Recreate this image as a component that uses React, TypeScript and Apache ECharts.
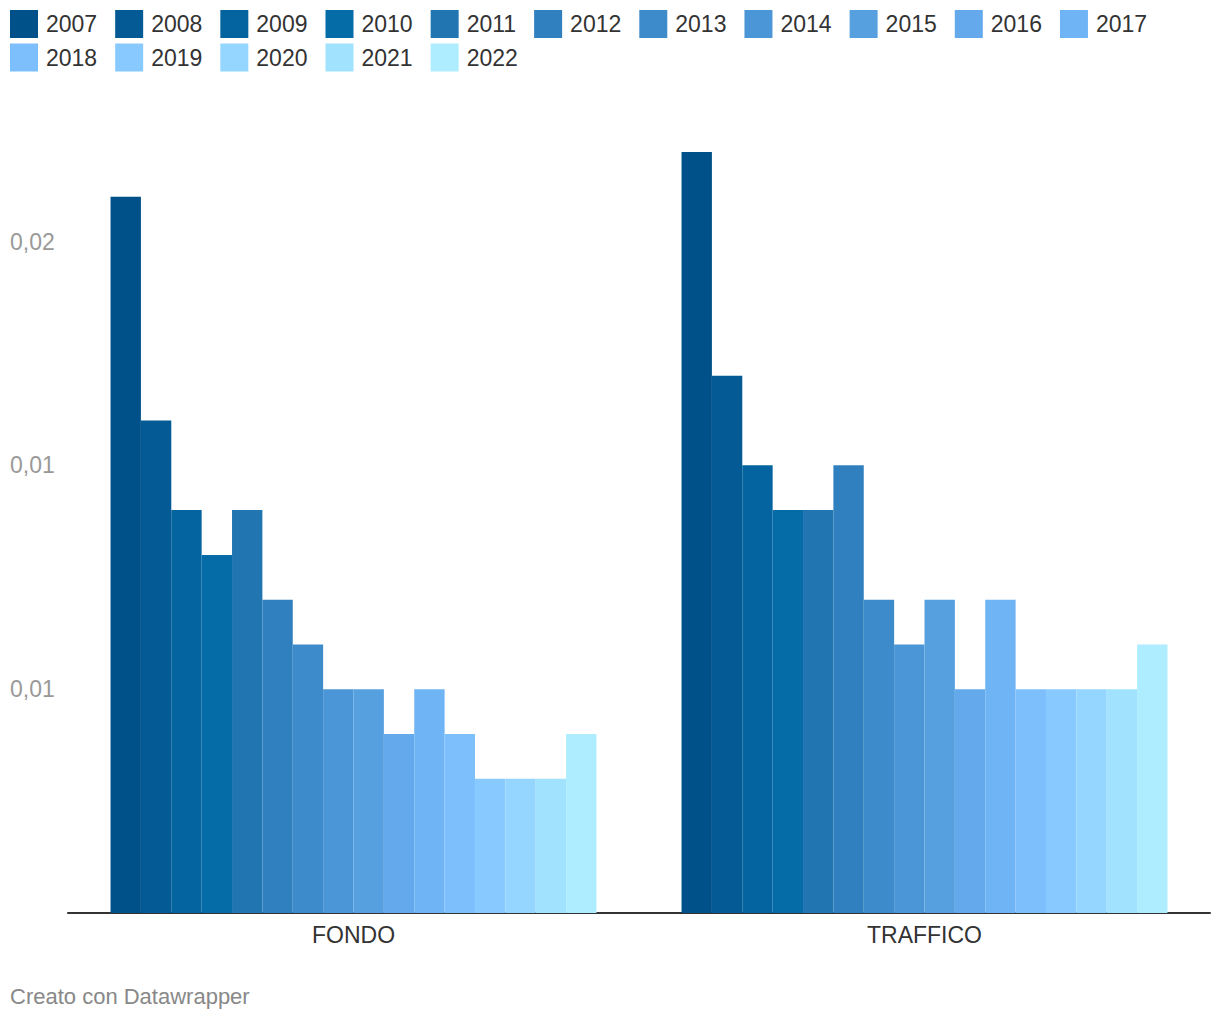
import React, { useEffect, useRef } from "react";
import * as echarts from "echarts";

const years = ["2007","2008","2009","2010","2011","2012","2013","2014","2015","2016","2017","2018","2019","2020","2021","2022"];
const categories = ["FONDO", "TRAFFICO"];
const fondo = [0.016,0.011,0.009,0.008,0.009,0.007,0.006,0.005,0.005,0.004,0.005,0.004,0.003,0.003,0.003,0.004];
const traffico = [0.017,0.012,0.010,0.009,0.009,0.010,0.007,0.006,0.007,0.005,0.007,0.005,0.005,0.005,0.005,0.006];
const colors = ["#005089","#035a94","#04649f","#066ca8","#2176b2","#3080c0","#3d8bca","#4b96d6","#56a0e0","#63a9eb","#6fb4f5","#7dbffd","#88caff","#94d6ff","#a1e2ff","#aeedff"];
const yTicks = [0.005, 0.01, 0.015];
const yTickLabels = ["0,01", "0,01", "0,02"];

const FONT = '"Liberation Sans", Arial, Helvetica, sans-serif';

export default function App() {
  const ref = useRef<HTMLDivElement>(null);
  useEffect(() => {
    if (!ref.current) return;
    const chart = echarts.init(ref.current, null, { renderer: "svg" });
    const legendCommon = {
      left: 10,
      padding: 0,
      orient: "horizontal",
      itemWidth: 28,
      itemHeight: 28,
      itemGap: 18,
      icon: "rect",
      textStyle: { fontSize: 23, color: "#333", fontFamily: FONT, padding: [0, 0, 0, 3] },
      selectedMode: false,
    };
    chart.setOption({
      animation: false,
      color: colors,
      textStyle: { fontFamily: FONT },
      legend: [
        { ...legendCommon, top: 10, data: years.slice(0, 11) },
        { ...legendCommon, top: 43.5, data: years.slice(11) },
      ],
      grid: { left: 68, right: 10, top: 152, bottom: 107, containLabel: false },
      xAxis: {
        type: "category",
        data: categories,
        axisLine: { lineStyle: { color: "#333", width: 2 } },
        axisTick: { show: false },
        axisLabel: { color: "#333", fontSize: 23, margin: 10, fontFamily: FONT },
      },
      yAxis: {
        type: "value",
        min: 0,
        max: 0.017,
        interval: 0.005,
        splitLine: { show: false },
        axisLine: { show: false },
        axisTick: { show: false },
        axisLabel: {
          showMinLabel: false,
          showMaxLabel: false,
          align: "left",
          margin: 58,
          color: "#999",
          fontSize: 23,
          fontFamily: FONT,
          formatter: (v: number) => {
            const i = yTicks.findIndex((t) => Math.abs(t - v) < 1e-9);
            return i >= 0 ? yTickLabels[i] : "";
          },
        },
      },
      series: years.map((y, i) => ({
        name: y,
        type: "bar",
        barGap: 0,
        barCategoryGap: "14.9%",
        data: [fondo[i], traffico[i]],
        itemStyle: { color: colors[i] },
      })),
      graphic: [
        {
          type: "text",
          left: 10,
          top: 985,
          style: { text: "Creato con Datawrapper", fill: "#888", fontSize: 22, fontFamily: FONT },
        },
      ],
    });
    return () => chart.dispose();
  }, []);
  return (
    <div
      ref={ref}
      style={{ position: "absolute", left: 0, top: 0, width: 1220, height: 1020, background: "#fff" }}
    />
  );
}
